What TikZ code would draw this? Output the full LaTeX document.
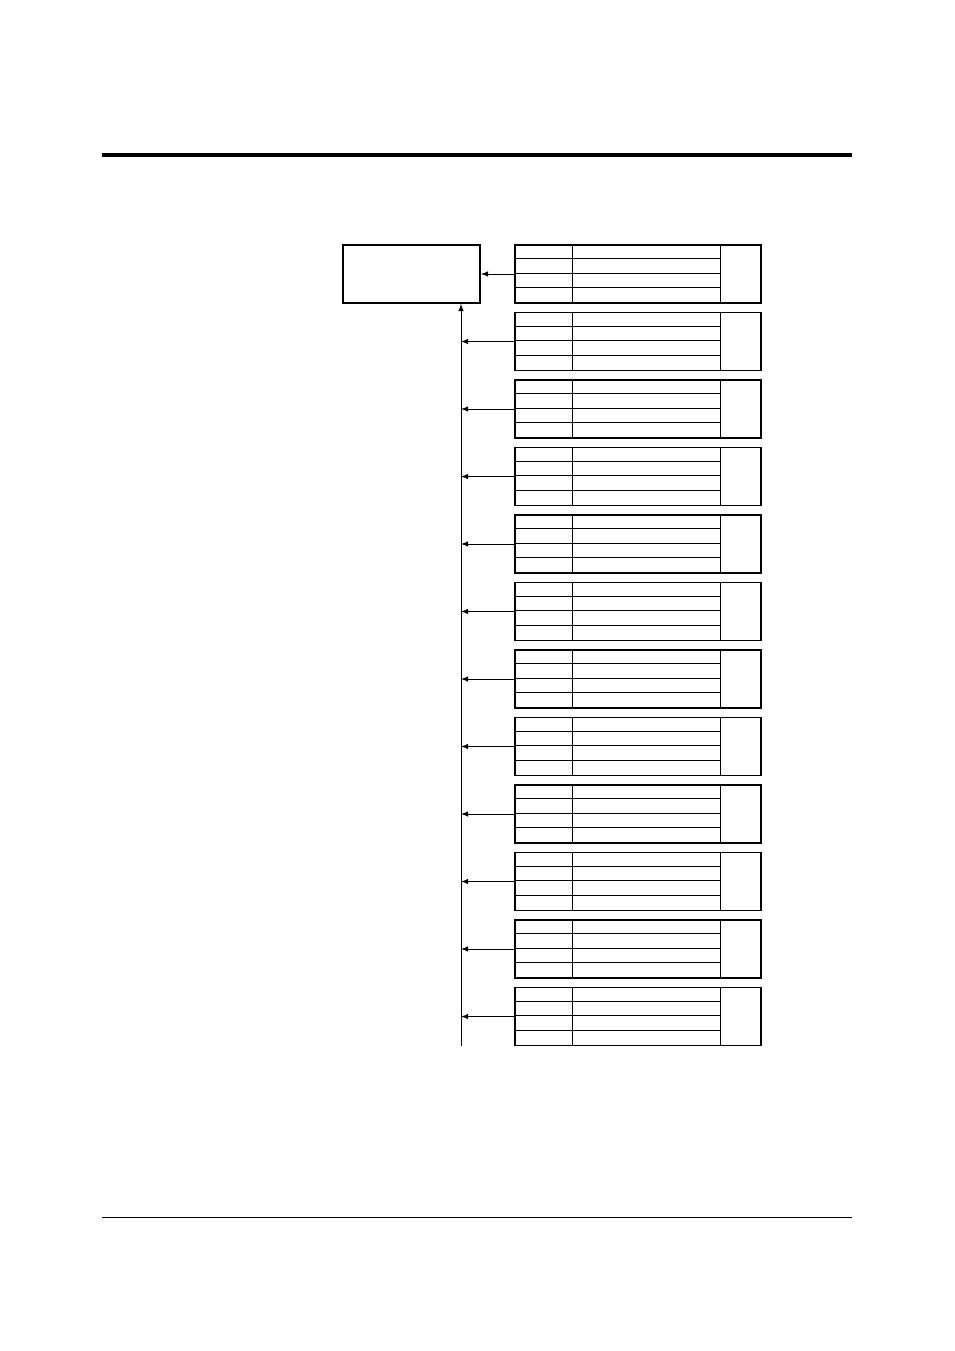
\documentclass[tikz,border=0pt]{standalone}
\usepackage{tikz}
\usetikzlibrary{arrows}
\usetikzlibrary{calc}

\begin{document}
\begin{tikzpicture}[
  x=0.6237pt,y=-0.6237pt,
  thin line/.style={line width=0.55pt},
  outer/.style={draw,line width=1.2pt,inner sep=0,minimum height=36.17pt},
  target/.style={outer,minimum width=85.45pt},
  table/.style={outer,minimum width=153.43pt},
  feed/.style={thin line,-latex}]

  \useasboundingbox (0,0) rectangle (954,1351);

  \draw[line width=1.9pt] (102,155) -- (852,155);
  \draw[line width=0.6pt] (102,1217) -- (852,1217);

  \node[target] (main) at (411.5,274) {};

  \foreach \i in {1,...,12} {
    \node[table] (t\i) at (638,{274+67.5*(\i-1)}) {};
    \draw[thin line] ($(t\i.north west)+(58,0)$) -- ($(t\i.south west)+(58,0)$);
    \draw[thin line] ($(t\i.north east)+(-42,0)$) -- ($(t\i.south east)+(-42,0)$);
    \foreach \r in {14.5,29,43.5}
      \draw[thin line] ($(t\i.north west)+(0,\r)$) -- ($(t\i.north east)+(-42,\r)$);
  }

  \coordinate (spine) at (461,1046);
  \draw[feed] (spine) -- (spine |- main.south);

  \draw[feed] (t1.west) -- (main.east);
  \foreach \i in {2,...,12}
    \draw[feed] (t\i.west) -- (t\i.west -| spine);
\end{tikzpicture}
\end{document}
